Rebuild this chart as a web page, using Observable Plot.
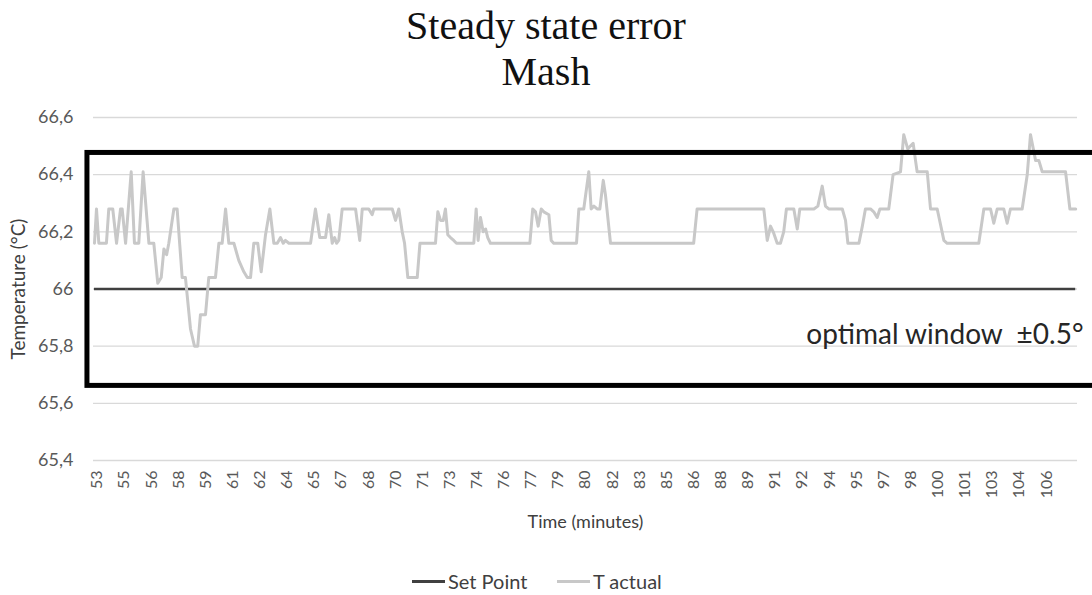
<!DOCTYPE html>
<html>
<head>
<meta charset="utf-8">
<script src="https://cdn.jsdelivr.net/npm/d3@7"></script>
<script src="https://cdn.jsdelivr.net/npm/@observablehq/plot@0.6"></script>
<style>
  html, body { margin: 0; padding: 0; background: #fff; overflow: hidden; width: 1092px; height: 595px; }
  #title { height: 100px; box-sizing: border-box; padding-top: 3px; text-align: center;
           font-family: "Liberation Serif", "Times New Roman", serif; font-size: 40px; line-height: 46px; color: #111; }
  #chart { height: 450px; }
  #legend { position: relative; height: 45px; font-family: Lato, sans-serif; font-size: 20px; color: #404040; }
  .item { position: absolute; top: 19px; display: flex; align-items: center; height: 24px; }
  .sw { display: inline-block; width: 33px; height: 3px; margin-right: 3px; }
</style>
</head>
<body>
<div id="title">Steady state error<br>Mash</div>
<div id="chart"></div>
<div id="legend">
  <div class="item" style="left:412px"><span class="sw" id="sw0"></span><span id="lg0"></span></div>
  <div class="item" style="left:557px"><span class="sw" id="sw1"></span><span id="lg1"></span></div>
</div>
<script>
// ---- data ----
const seriesNames = ["Set Point", "T actual"];
const setPoint = 66;
const times = [52.85,52.96,53.09,53.51,53.64,53.86,54.07,54.29,54.38,54.57,54.88,55.06,55.30,55.54,55.86,56.13,56.35,56.54,56.69,56.84,56.96,57.24,57.42,57.70,57.88,58.16,58.38,58.56,58.71,58.99,59.17,59.54,59.73,59.91,60.10,60.28,60.56,60.83,61.11,61.30,61.48,61.66,61.88,62.07,62.31,62.55,62.77,62.96,63.14,63.29,63.41,63.60,64.80,65.07,65.31,65.63,65.81,66.00,66.13,66.24,66.36,66.55,66.73,67.29,67.52,67.66,68.02,68.21,68.30,69.32,69.50,69.68,69.87,70.00,70.18,70.70,70.85,71.71,71.84,71.99,72.14,72.26,72.39,72.54,72.72,72.87,73.83,73.96,74.07,74.20,74.35,74.48,74.60,74.75,76.93,77.09,77.24,77.39,77.56,77.70,77.98,78.11,78.25,79.51,79.64,79.91,80.19,80.32,80.47,80.65,80.80,80.99,81.11,81.39,85.99,86.18,89.87,90.06,90.24,90.39,90.61,90.79,90.97,91.12,91.53,91.72,91.86,92.64,92.86,93.10,93.28,93.46,94.21,94.39,94.52,95.13,95.32,95.49,95.77,95.95,96.14,96.29,96.78,97.02,97.43,97.61,97.83,97.98,98.13,98.26,98.35,98.91,99.09,99.46,99.83,100.01,101.76,102.04,102.41,102.59,102.78,103.14,103.33,103.51,104.16,104.44,104.62,104.90,105.08,105.27,106.56,106.80,107.12];
const temps = [66.16,66.28,66.16,66.16,66.28,66.28,66.16,66.28,66.28,66.16,66.41,66.16,66.16,66.41,66.16,66.16,66.02,66.04,66.14,66.12,66.16,66.28,66.28,66.04,66.04,65.86,65.80,65.80,65.91,65.91,66.04,66.04,66.16,66.16,66.28,66.16,66.16,66.10,66.06,66.04,66.04,66.16,66.16,66.06,66.19,66.28,66.16,66.16,66.18,66.16,66.17,66.16,66.16,66.28,66.18,66.18,66.26,66.16,66.18,66.16,66.17,66.28,66.28,66.28,66.17,66.28,66.28,66.26,66.28,66.28,66.24,66.28,66.20,66.16,66.04,66.04,66.16,66.16,66.27,66.24,66.24,66.28,66.19,66.18,66.17,66.16,66.16,66.28,66.17,66.25,66.20,66.21,66.18,66.16,66.16,66.28,66.27,66.22,66.28,66.27,66.26,66.17,66.16,66.16,66.28,66.28,66.41,66.28,66.29,66.28,66.28,66.38,66.33,66.16,66.16,66.28,66.28,66.17,66.22,66.20,66.16,66.16,66.20,66.28,66.28,66.21,66.28,66.28,66.29,66.36,66.29,66.28,66.28,66.24,66.16,66.16,66.22,66.28,66.28,66.27,66.25,66.28,66.28,66.40,66.41,66.54,66.49,66.50,66.51,66.45,66.41,66.41,66.28,66.28,66.17,66.16,66.16,66.28,66.28,66.23,66.28,66.28,66.23,66.28,66.28,66.40,66.54,66.45,66.45,66.41,66.41,66.28,66.28];
const yTickValues = [65.4, 65.6, 65.8, 66, 66.2, 66.4, 66.6];
const yTickLabels = ["65,4", "65,6", "65,8", "66", "66,2", "66,4", "66,6"];
const xTickValues = [53,54.5,56,57.5,59,60.5,62,63.5,65,66.5,68,69.5,71,72.5,74,75.5,77,78.5,80,81.5,83,84.5,86,87.5,89,90.5,92,93.5,95,96.5,98,99.5,101,102.5,104,105.5];
const xTickLabels = ["53","55","56","58","59","61","62","64","65","67","68","70","71","73","74","76","77","79","80","82","83","85","86","88","89","91","92","94","95","97","98","100","101","103","104","106"];
const xDomain = [52.795, 107.22];
const yDomain = [65.4, 66.6];
const windowBox = [{start: 52.46, end: 110, low: 65.661, high: 66.476}];
const windowLabel = "optimal window  \u00b10.5\u00b0";
const xTitle = "Time (minutes)";
const yTitle = "Temperature (\u00b0C)";
const colors = ["#404040", "#c8c8c8"];

// ---- chart ----
const chart = Plot.plot({
  width: 1092,
  height: 450,
  marginLeft: 93,
  marginRight: 15,
  marginTop: 17,
  marginBottom: 90,
  style: {fontFamily: "Lato, sans-serif", color: "#595959", background: "#fff"},
  x: {domain: xDomain},
  y: {domain: yDomain},
  marks: [
    Plot.gridY(yTickValues, {stroke: "#d9d9d9", strokeOpacity: 1, strokeWidth: 1.3}),
    Plot.axisY(yTickValues, {tickSize: 0, tickPadding: 20, fontSize: 18,
      tickFormat: d => yTickLabels[yTickValues.indexOf(d)], label: null}),
    Plot.axisX(xTickValues, {tickSize: 0, tickPadding: 10, tickRotate: -90, fontSize: 16,
      tickFormat: d => xTickLabels[xTickValues.indexOf(d)], label: null}),
    Plot.ruleY([setPoint], {x1: times[0], x2: times[times.length - 1], stroke: colors[0], strokeWidth: 2.5}),
    Plot.line(times, {x: d => d, y: (d, i) => temps[i], stroke: colors[1], strokeWidth: 3, strokeLinejoin: "round"}),
    Plot.rect(windowBox, {x1: "start", x2: "end", y1: "low", y2: "high", fill: "none", stroke: "#000", strokeWidth: 5}),
    Plot.text([windowLabel], {frameAnchor: "right", textAnchor: "end", dx: 6, dy: 46, fontSize: 28, fill: "#262626"}),
    Plot.text([yTitle], {frameAnchor: "left", textAnchor: "middle", rotate: -90, dx: -75, fontSize: 19, fill: "#404040"}),
    Plot.text([xTitle], {frameAnchor: "bottom", dy: 67, fontSize: 18, fill: "#404040"})
  ]
});
document.getElementById("chart").appendChild(chart);
document.getElementById("sw0").style.background = colors[0];
document.getElementById("sw1").style.background = colors[1];
document.getElementById("lg0").textContent = seriesNames[0];
document.getElementById("lg1").textContent = seriesNames[1];
</script>
</body>
</html>
